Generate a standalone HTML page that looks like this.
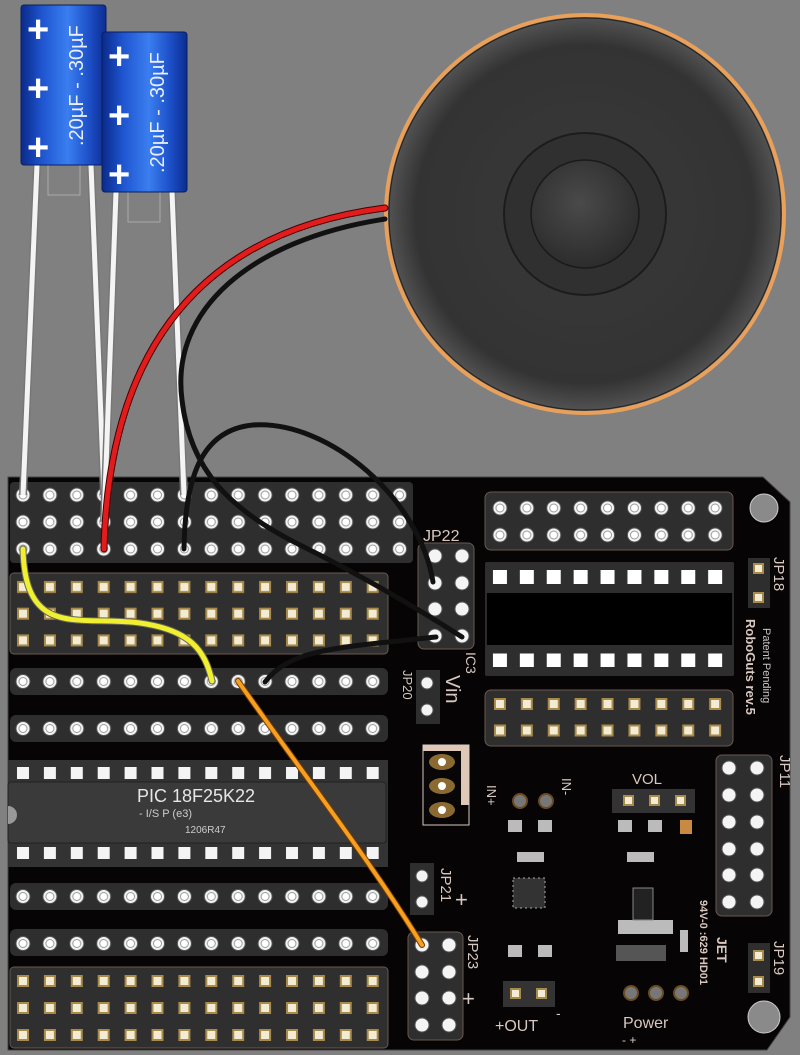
<!DOCTYPE html>
<html><head><meta charset="utf-8"><style>
html,body{margin:0;padding:0;background:#808080;}
svg{display:block;}
text{font-family:"Liberation Sans",sans-serif;}
</style></head><body>
<svg width="800" height="1055" viewBox="0 0 800 1055" xmlns="http://www.w3.org/2000/svg">
<defs>
 <pattern id="rh" patternUnits="userSpaceOnUse" x="9.55" y="481.5" width="26.9" height="27">
  <circle cx="13.45" cy="13.5" r="10" fill="#2e2e2e"/>
  <circle cx="13.45" cy="13.5" r="7" fill="#f4f4f4" stroke="#555" stroke-width="1"/>
  <circle cx="13.45" cy="13.5" r="4" fill="#fff" stroke="#999" stroke-width="1"/>
 </pattern>
 <pattern id="rh2" patternUnits="userSpaceOnUse" x="9.55" y="0.5" width="26.9" height="47">
  <circle cx="13.45" cy="13.5" r="10" fill="#2e2e2e"/>
  <circle cx="13.45" cy="13.5" r="7" fill="#f4f4f4" stroke="#555" stroke-width="1"/>
  <circle cx="13.45" cy="13.5" r="4" fill="#fff" stroke="#999" stroke-width="1"/>
 </pattern>
 <pattern id="sq" patternUnits="userSpaceOnUse" x="9.55" y="573.5" width="26.9" height="26.7">
  <rect x="7.45" y="7.5" width="12" height="12" fill="#a88a4a"/>
  <rect x="9.45" y="9.5" width="8" height="8" fill="#f2ecd4"/>
 </pattern>
 <pattern id="sq2" patternUnits="userSpaceOnUse" x="9.55" y="967.5" width="26.9" height="27">
  <rect x="7.45" y="7.5" width="12" height="12" fill="#a88a4a"/>
  <rect x="9.45" y="9.5" width="8" height="8" fill="#f2ecd4"/>
 </pattern>
 <pattern id="icp" patternUnits="userSpaceOnUse" x="9.55" y="0" width="26.9" height="80">
  <rect x="7.45" y="0" width="12" height="12" fill="#f4f4f4"/>
 </pattern>
 <pattern id="hr" patternUnits="userSpaceOnUse" x="486.5" y="494.5" width="26.9" height="27">
  <circle cx="13.45" cy="13.5" r="7" fill="#f4f4f4" stroke="#555"/>
  <circle cx="13.45" cy="13.5" r="4" fill="#fff" stroke="#999"/>
 </pattern>
 <pattern id="hs" patternUnits="userSpaceOnUse" x="486.5" y="690.5" width="26.9" height="26.5">
  <rect x="7.45" y="7.5" width="12" height="12" fill="#a88a4a"/>
  <rect x="9.45" y="9.5" width="8" height="8" fill="#f2ecd4"/>
 </pattern>
 <pattern id="icw" patternUnits="userSpaceOnUse" x="486.5" y="570" width="26.9" height="83">
  <rect x="6.45" y="0" width="14" height="14" fill="#fff"/>
 </pattern>
 <linearGradient id="blue" x1="0" y1="0" x2="1" y2="0">
  <stop offset="0" stop-color="#0a2a8a"/><stop offset="0.25" stop-color="#1f55d0"/>
  <stop offset="0.55" stop-color="#3a7ef0"/><stop offset="0.8" stop-color="#1d50c8"/><stop offset="1" stop-color="#0c2c90"/>
 </linearGradient>
 <radialGradient id="spk" cx="0.5" cy="0.5" r="0.5">
  <stop offset="0" stop-color="#3a3a3a"/><stop offset="0.85" stop-color="#333"/><stop offset="1" stop-color="#555"/>
 </radialGradient>
 <radialGradient id="cone" cx="0.45" cy="0.4" r="0.6">
  <stop offset="0" stop-color="#4a4a4a"/><stop offset="1" stop-color="#2c2c2c"/>
 </radialGradient>
</defs>

<circle cx="585" cy="214" r="199" fill="url(#spk)" stroke="#e8a05a" stroke-width="4"/>
<circle cx="585" cy="214" r="196" fill="none" stroke="#222" stroke-width="1"/>
<circle cx="585" cy="214" r="81" fill="#303030" stroke="#1c1c1c" stroke-width="2"/>
<circle cx="585" cy="214" r="54" fill="url(#cone)" stroke="#1a1a1a" stroke-width="1.5"/>

<path d="M8,477 L763,477 L790,502 L790,1017 L767,1050 L8,1050 Z" fill="#060404" stroke="#444" stroke-width="1"/>
<circle cx="764" cy="508" r="14" fill="#8a8a8a" stroke="#ccc" stroke-width="1"/>
<circle cx="764" cy="1017" r="16" fill="#8a8a8a" stroke="#ccc" stroke-width="1"/>

<rect x="10" y="482" width="403" height="81" rx="4" fill="#2e2e2e"/>
<rect x="10" y="482" width="403" height="81" fill="url(#rh)"/>
<rect x="10" y="573" width="378" height="81" rx="4" fill="#2f2f2f" stroke="#6a5850" stroke-width="1"/>
<rect x="10" y="573" width="378" height="81" fill="url(#sq)"/>
<rect x="10" y="668" width="378" height="27" rx="6" fill="#2e2e2e"/>
<rect x="10" y="715" width="378" height="27" rx="6" fill="#2e2e2e"/>
<g transform="translate(0,667.5)"><rect x="10" y="0" width="378" height="75" fill="url(#rh2)"/></g>
<rect x="8" y="760" width="380" height="107" fill="#333"/>
<g transform="translate(0,767)"><rect x="10" y="0" width="378" height="92" fill="url(#icp)"/></g>
<rect x="8" y="782" width="378" height="61" rx="3" fill="#3a3a3a" stroke="#222"/>
<path d="M8,806 a9,9 0 0 1 0,18 Z" fill="#999"/>
<text x="137" y="802" font-size="18" fill="#e6e6e6">PIC 18F25K22</text>
<text x="139" y="817" font-size="11" fill="#ccc">- I/S P (e3)</text>
<text x="185" y="833" font-size="10" fill="#ccc">1206R47</text>
<rect x="10" y="883" width="378" height="27" rx="6" fill="#2e2e2e"/>
<rect x="10" y="929" width="378" height="27" rx="6" fill="#2e2e2e"/>
<g transform="translate(0,882.5)"><rect x="10" y="0" width="378" height="74" fill="url(#rh2)"/></g>
<rect x="10" y="967" width="378" height="81" rx="4" fill="#2f2f2f" stroke="#6a5850" stroke-width="1"/>
<rect x="10" y="967" width="378" height="81" fill="url(#sq2)"/>

<rect x="485" y="492" width="248" height="58" rx="6" fill="#2e2e2e" stroke="#6a5850"/>
<rect x="486" y="494" width="245" height="54" fill="url(#hr)"/>
<rect x="486" y="563" width="247" height="112" fill="#000" stroke="#555"/>
<rect x="486" y="563" width="247" height="30" fill="#2e2e2e"/>
<rect x="486" y="645" width="247" height="30" fill="#2e2e2e"/>
<rect x="486" y="570" width="245" height="100" fill="url(#icw)"/>
<rect x="485" y="690" width="248" height="56" rx="6" fill="#2e2e2e" stroke="#6a5850"/>
<rect x="486" y="690" width="245" height="54" fill="url(#hs)"/>

<text x="423" y="541" font-size="16" fill="#d8c8c0">JP22</text>
<rect x="418" y="543" width="56" height="106" rx="6" fill="#2e2e2e" stroke="#6a5850"/>
<g fill="#f4f4f4" stroke="#555">
 <circle cx="435" cy="556" r="7"/><circle cx="462" cy="556" r="7"/>
 <circle cx="435" cy="583" r="7"/><circle cx="462" cy="583" r="7"/>
 <circle cx="435" cy="609" r="7"/><circle cx="462" cy="609" r="7"/>
 <circle cx="435" cy="636" r="7"/><circle cx="462" cy="636" r="7"/>
</g>
<text transform="translate(466,652) rotate(90)" font-size="14" fill="#d8c8c0">IC3</text>

<rect x="416" y="670" width="24" height="54" fill="#2e2e2e"/>
<circle cx="427" cy="683" r="6" fill="#f4f4f4" stroke="#555"/>
<circle cx="427" cy="710" r="6" fill="#f4f4f4" stroke="#555"/>
<text transform="translate(446,675) rotate(90)" font-size="20" fill="#d8c8c0">Vin</text>
<text transform="translate(403,670) rotate(90)" font-size="13" fill="#d8c8c0">JP20</text>

<rect x="748" y="558" width="22" height="50" fill="#2e2e2e"/>
<rect x="753" y="563" width="11" height="11" fill="#a88a4a"/><rect x="755" y="565" width="7" height="7" fill="#f2ecd4"/>
<rect x="753" y="592" width="11" height="11" fill="#a88a4a"/><rect x="755" y="594" width="7" height="7" fill="#f2ecd4"/>
<text transform="translate(774,557) rotate(90)" font-size="15" fill="#d8c8c0">JP18</text>
<text transform="translate(746,619) rotate(90)" font-size="13" font-weight="bold" fill="#d8c8c0">RoboGuts rev.5</text>
<text transform="translate(763,628) rotate(90)" font-size="11" fill="#c8c8c8">Patent Pending</text>

<rect x="423" y="745" width="46" height="60" fill="#e0c8b8"/>
<rect x="423" y="751" width="38" height="54" fill="#080606"/>
<g fill="#8a6a30"><ellipse cx="442" cy="762" rx="13" ry="8"/><ellipse cx="442" cy="786" rx="13" ry="8"/><ellipse cx="442" cy="810" rx="13" ry="8"/></g>
<rect x="423" y="745" width="46" height="80" fill="none" stroke="#d8c8c0" stroke-width="1"/>
<g fill="#fff"><circle cx="442" cy="762" r="4"/><circle cx="442" cy="786" r="4"/><circle cx="442" cy="810" r="4"/></g>
<text transform="translate(487,785) rotate(90)" font-size="13" fill="#d8c8c0">IN+</text>
<text transform="translate(562,778) rotate(90)" font-size="13" fill="#d8c8c0">IN-</text>
<circle cx="520" cy="801" r="7" fill="#777" stroke="#6a4a20" stroke-width="2"/>
<circle cx="546" cy="801" r="7" fill="#777" stroke="#6a4a20" stroke-width="2"/>
<text x="632" y="784" font-size="15" fill="#d8c8c0">VOL</text>
<rect x="612" y="789" width="83" height="24" fill="#333"/>
<g><rect x="623" y="795" width="11" height="11" fill="#a88a4a"/><rect x="649" y="795" width="11" height="11" fill="#a88a4a"/><rect x="675" y="795" width="11" height="11" fill="#a88a4a"/>
<rect x="625" y="797" width="7" height="7" fill="#f2ecd4"/><rect x="651" y="797" width="7" height="7" fill="#f2ecd4"/><rect x="677" y="797" width="7" height="7" fill="#f2ecd4"/></g>
<g fill="#bbb"><rect x="508" y="820" width="14" height="12"/><rect x="538" y="820" width="14" height="12"/><rect x="517" y="852" width="27" height="10"/>
<rect x="618" y="820" width="14" height="12"/><rect x="648" y="820" width="14" height="12"/><rect x="627" y="852" width="27" height="10"/>
<rect x="508" y="945" width="14" height="12"/><rect x="538" y="945" width="14" height="12"/>
<rect x="618" y="920" width="55" height="14"/><rect x="616" y="945" width="50" height="16" fill="#555"/><rect x="680" y="930" width="8" height="22"/></g>
<rect x="680" y="820" width="12" height="14" fill="#c88a40"/>
<rect x="513" y="878" width="32" height="30" fill="#333" stroke="#aaa" stroke-dasharray="2,3"/>
<rect x="633" y="888" width="20" height="32" fill="#222" stroke="#888"/>
<rect x="503" y="981" width="52" height="26" fill="#333"/>
<rect x="510" y="988" width="11" height="11" fill="#a88a4a"/><rect x="536" y="988" width="11" height="11" fill="#a88a4a"/>
<rect x="512" y="990" width="7" height="7" fill="#f2ecd4"/><rect x="538" y="990" width="7" height="7" fill="#f2ecd4"/>
<text x="495" y="1031" font-size="16" fill="#d8c8c0">+OUT</text>
<text x="556" y="1018" font-size="14" fill="#d8c8c0">-</text>
<g fill="#777" stroke="#6a4a20" stroke-width="2"><circle cx="631" cy="993" r="7"/><circle cx="656" cy="993" r="7"/><circle cx="681" cy="993" r="7"/></g>
<text x="623" y="1028" font-size="16" fill="#d8c8c0">Power</text>
<text x="622" y="1044" font-size="12" fill="#d8c8c0">-       +</text>
<text transform="translate(700,900) rotate(90)" font-size="11" font-weight="bold" fill="#d8c8c0">94V-0 :629 HD01</text>
<text transform="translate(717,937) rotate(90)" font-size="14" font-weight="bold" fill="#d8c8c0">JET</text>

<rect x="716" y="755" width="56" height="161" rx="6" fill="#2e2e2e" stroke="#6a5850"/>
<g fill="#f4f4f4" stroke="#555">
 <circle cx="729" cy="768" r="7"/><circle cx="757" cy="768" r="7"/>
 <circle cx="729" cy="795" r="7"/><circle cx="757" cy="795" r="7"/>
 <circle cx="729" cy="822" r="7"/><circle cx="757" cy="822" r="7"/>
 <circle cx="729" cy="849" r="7"/><circle cx="757" cy="849" r="7"/>
 <circle cx="729" cy="875" r="7"/><circle cx="757" cy="875" r="7"/>
 <circle cx="729" cy="902" r="7"/><circle cx="757" cy="902" r="7"/>
</g>
<text transform="translate(780,755) rotate(90)" font-size="15" fill="#d8c8c0">JP11</text>
<rect x="748" y="943" width="22" height="50" fill="#2e2e2e"/>
<rect x="753" y="950" width="11" height="11" fill="#a88a4a"/><rect x="755" y="952" width="7" height="7" fill="#f2ecd4"/>
<rect x="753" y="976" width="11" height="11" fill="#a88a4a"/><rect x="755" y="978" width="7" height="7" fill="#f2ecd4"/>
<text transform="translate(774,941) rotate(90)" font-size="15" fill="#d8c8c0">JP19</text>

<rect x="410" y="863" width="24" height="52" fill="#2e2e2e"/>
<circle cx="422" cy="876" r="6" fill="#f4f4f4" stroke="#555"/><circle cx="422" cy="902" r="6" fill="#f4f4f4" stroke="#555"/>
<text transform="translate(441,868) rotate(90)" font-size="15" fill="#d8c8c0">JP21</text>
<text x="455" y="907" font-size="22" fill="#d8c8c0">+</text>
<rect x="408" y="932" width="55" height="108" rx="6" fill="#2e2e2e" stroke="#6a5850"/>
<g fill="#f4f4f4" stroke="#555">
 <circle cx="422" cy="945" r="7"/><circle cx="449" cy="945" r="7"/>
 <circle cx="422" cy="972" r="7"/><circle cx="449" cy="972" r="7"/>
 <circle cx="422" cy="998" r="7"/><circle cx="449" cy="998" r="7"/>
 <circle cx="422" cy="1025" r="7"/><circle cx="449" cy="1025" r="7"/>
</g>
<text transform="translate(468,935) rotate(90)" font-size="15" fill="#d8c8c0">JP23</text>
<text x="462" y="1006" font-size="22" fill="#d8c8c0">+</text>

<g>
 <path d="M37,165 L23,495" stroke="#777" stroke-width="8" fill="none"/><path d="M37,165 L23,495" stroke="#f4f4f4" stroke-width="5" fill="none"/>
 <path d="M91,165 L104,495" stroke="#777" stroke-width="8" fill="none"/><path d="M91,165 L104,495" stroke="#f4f4f4" stroke-width="5" fill="none"/>
 <rect x="48" y="165" width="32" height="30" fill="none" stroke="#aaa"/>
 <rect x="21" y="5" width="85" height="160" rx="3" fill="url(#blue)" stroke="#0a1e60"/>
 <path d="M116,192 L104,522" stroke="#777" stroke-width="8" fill="none"/><path d="M116,192 L104,522" stroke="#f4f4f4" stroke-width="5" fill="none"/>
 <path d="M172,192 L184,495" stroke="#777" stroke-width="8" fill="none"/><path d="M172,192 L184,495" stroke="#f4f4f4" stroke-width="5" fill="none"/>
 <rect x="128" y="192" width="32" height="30" fill="none" stroke="#aaa"/>
 <rect x="102" y="32" width="85" height="160" rx="3" fill="url(#blue)" stroke="#0a1e60"/>
 <g fill="#fff" font-size="38" font-weight="bold">
  <text x="27" y="42">+</text><text x="27" y="101">+</text><text x="27" y="160">+</text>
  <text x="108" y="69">+</text><text x="108" y="128">+</text><text x="108" y="187">+</text>
 </g>
 <text transform="translate(83,146) rotate(-90)" font-size="20" fill="#e8eeff">.20µF - .30µF</text>
 <text transform="translate(164,173) rotate(-90)" font-size="20" fill="#e8eeff">.20µF - .30µF</text>
</g>

<g fill="none" stroke-linecap="round">
 <path d="M385,208 C250,225 110,300 104,549" stroke="#400" stroke-width="7"/>
 <path d="M385,208 C250,225 110,300 104,549" stroke="#e21c1c" stroke-width="5"/>
 <path d="M385,219 C250,240 170,310 182,400 C190,470 230,510 300,545 C370,580 420,610 462,637" stroke="#111" stroke-width="5"/>
 <path d="M184,549 C185,480 200,430 253,425 C330,420 420,500 433,582" stroke="#111" stroke-width="5"/>
 <path d="M265,682 C290,650 330,648 436,637" stroke="#111" stroke-width="5"/>
 <path d="M23,549 C25,640 80,615 140,623 C190,630 205,650 212,681" stroke="#665" stroke-width="7"/>
 <path d="M23,549 C25,640 80,615 140,623 C190,630 205,650 212,681" stroke="#f0f030" stroke-width="5"/>
 <path d="M238,681 C300,770 370,860 422,945" stroke="#7a3a00" stroke-width="6"/>
 <path d="M238,681 C300,770 370,860 422,945" stroke="#f5a020" stroke-width="4"/>
</g>
</svg>
</body></html>
